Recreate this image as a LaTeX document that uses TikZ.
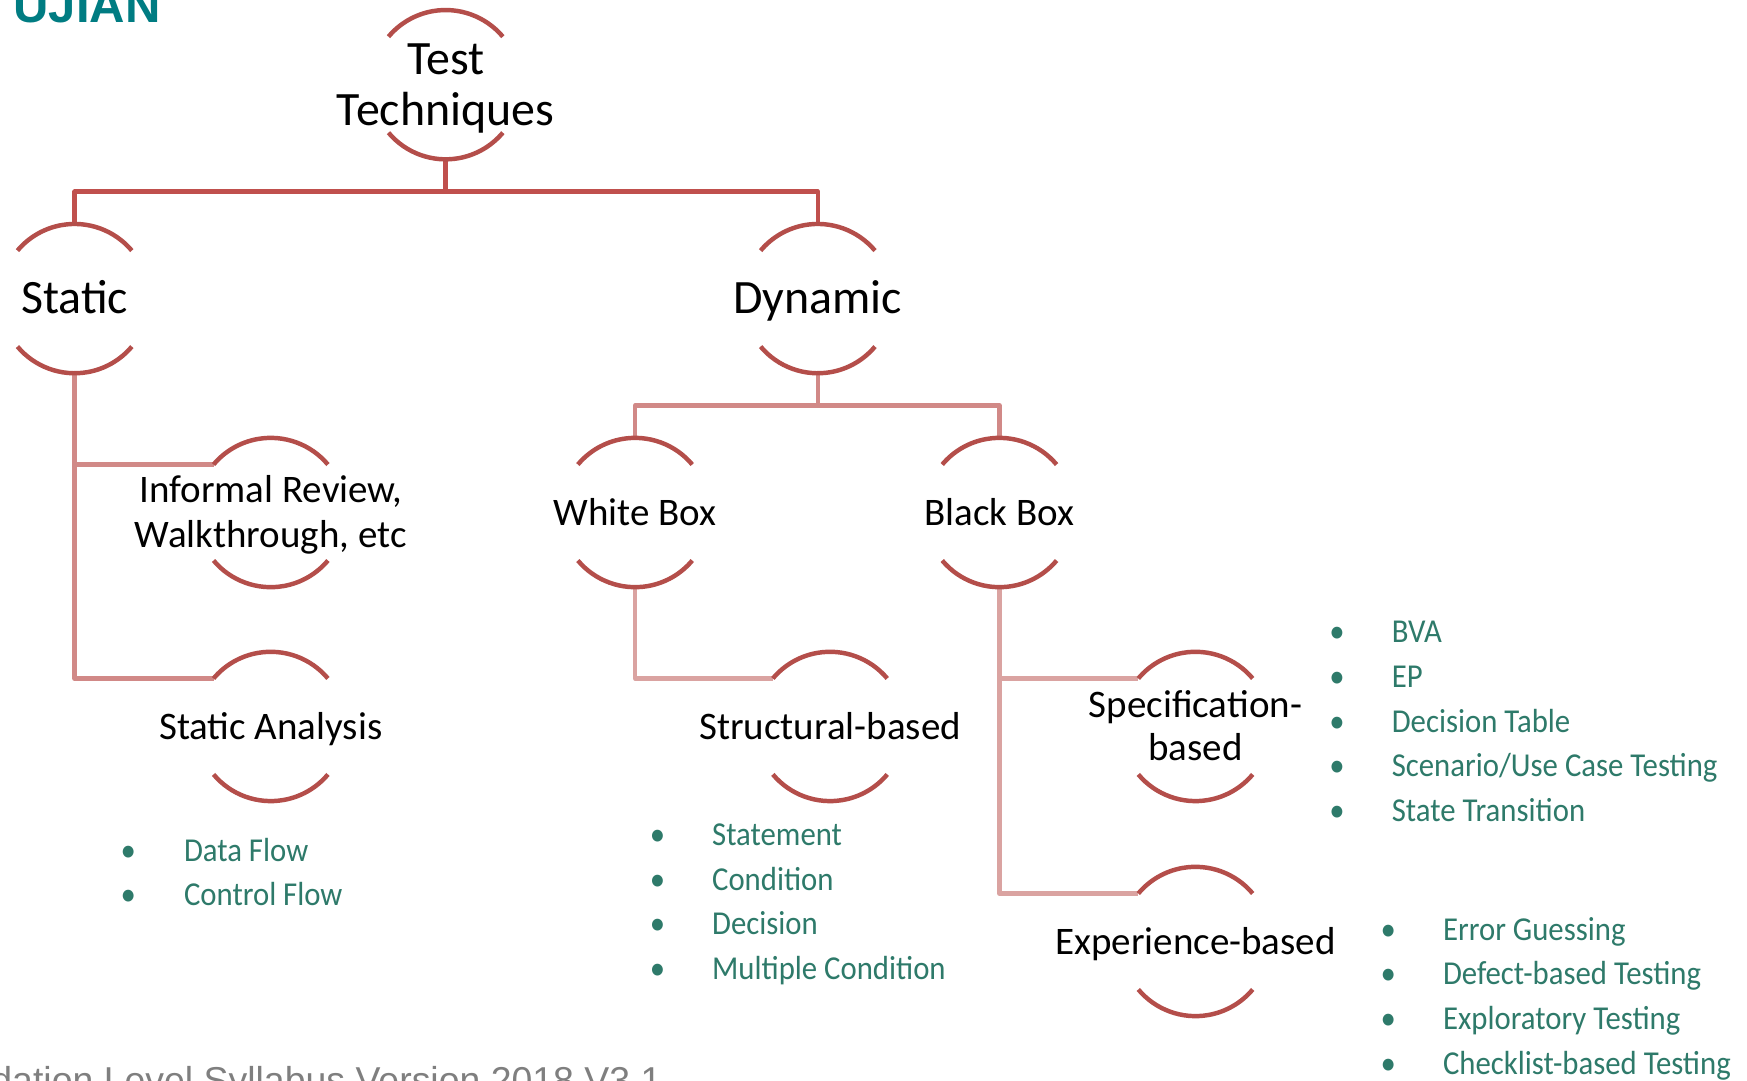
\documentclass[tikz,border=0pt]{standalone}
\usepackage{fontspec}
\setmainfont{Carlito}
\newfontfamily\listfont[FakeStretch=0.92]{Carlito}
\newfontfamily\headfont{Liberation Sans}
\usetikzlibrary{calc}
\definecolor{arcred}{RGB}{180,78,74}
\definecolor{connA}{RGB}{192,80,77}
\definecolor{connB}{RGB}{209,137,135}
\definecolor{connC}{RGB}{218,163,161}
\definecolor{listgreen}{RGB}{46,122,106}
\definecolor{tealc}{RGB}{0,124,130}
\definecolor{footgray}{RGB}{127,127,127}
\tikzset{
  ring/.style={circle, minimum size=134pt, inner sep=0pt, outer sep=0pt},
  arcline/.style={draw=arcred, line width=4pt},
  conn1/.style={draw=connA, line width=4pt, line join=round},
  conn2/.style={draw=connB, line width=4pt, line join=round},
  conn3/.style={draw=connC, line width=4pt, line join=round},
  lblbig/.style={font=\fontsize{43}{46}\selectfont, align=center, inner sep=0pt, anchor=base},
  lblsmall/.style={font=\fontsize{35}{40}\selectfont, align=center, inner sep=0pt, anchor=base},
  lblspec/.style={font=\fontsize{35}{39}\selectfont, align=center, inner sep=0pt, anchor=base},
  item/.style={font=\listfont\fontsize{30}{36}\selectfont, text=listgreen, inner sep=0pt, anchor=base west}
}
\newcommand\ringnode[6]{%
  \node[ring] (#1) at (#2,-#3) {};
  \node[#4] (#1-t) at ([yshift=#5pt]#1.center) {#6};
}
\newcommand\listitems[5]{%
  \foreach \t [count=\i from 0] in {#5} {%
    \node[item] (#1-\i) at (#2,-#3-40*\i) {\makebox[#4pt][l]{•}\t};
  }%
}
\begin{document}
\begin{tikzpicture}[x=1pt,y=1pt]
\useasboundingbox (0,0) rectangle (1568,-970);
\fill[white] (0,0) rectangle (1568,-970);
\clip (0,0) rectangle (1568,-970);

% header and footer (cut by the frame)
\node[font=\headfont\bfseries\fontsize{44}{50}\selectfont, text=tealc, anchor=base west, inner sep=0pt] (title) at (12,-20.5) {UJIAN};
\node[font=\headfont\fontsize{33.6}{40}\selectfont, text=footgray, anchor=base east, inner sep=0pt] (foot) at (594,-981) {Foundation Level Syllabus Version 2018 V3.1};

% nodes
\ringnode{tt}{400}{76}{lblbig}{-36.8}{Test\\Techniques}
\ringnode{static}{67}{268}{lblbig}{-13.8}{Static}
\ringnode{dyn}{734}{268}{lblbig}{-13.8}{Dynamic}
\ringnode{ir}{243}{460}{lblsmall}{-31.3}{Informal Review,\\Walkthrough, etc}
\ringnode{sa}{243}{652}{lblsmall}{-11.3}{Static Analysis}
\ringnode{wb}{570}{460}{lblsmall}{-11.3}{White Box}
\ringnode{bb}{897}{460}{lblsmall}{-11.3}{Black Box}
\ringnode{sb}{745}{652}{lblsmall}{-11.3}{Structural-based}
\ringnode{spec}{1073}{652}{lblspec}{-30.8}{Specification-\\based}
\ringnode{exp}{1073}{845}{lblsmall}{-11.3}{Experience-based}

% connectors
\coordinate (j0) at (400,-172);
\coordinate (j1) at (734,-364);
\draw[conn1] (tt.south) -- (j0);
\draw[conn1] (static.north) |- (j0) -| (dyn.north);
\draw[conn2] (dyn.south) -- (j1);
\draw[conn2] (wb.north) |- (j1) -| (bb.north);
\draw[conn2] (static.south) |- (ir.140);
\draw[conn2] (static.south) |- (sa.140);
\draw[conn3] (wb.south) |- (sb.140);
\draw[conn3] (bb.south) |- (spec.140);
\draw[conn3] (bb.south) |- (exp.140);

% arcs of every node
\foreach \n in {tt,static,dyn,ir,sa,wb,bb,sb,spec,exp} {
  \draw[arcline] (\n.40) arc[start angle=40,end angle=140,radius=67];
  \draw[arcline] (\n.220) arc[start angle=220,end angle=320,radius=67];
}

% lists
\listitems{la}{108}{773}{57}{Data Flow,Control Flow}
\listitems{lb}{583}{759}{56}{Statement,Condition,Decision,Multiple Condition}
\listitems{lc}{1193}{577}{56}{BVA,EP,Decision Table,Scenario/Use Case Testing,State Transition}
\listitems{ld}{1239}{844}{56}{Error Guessing,Defect-based Testing,Exploratory Testing,Checklist-based Testing}
\end{tikzpicture}
\end{document}
